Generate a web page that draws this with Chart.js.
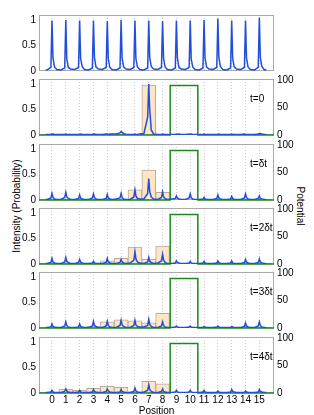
<!DOCTYPE html>
<html>
<head>
<meta charset="utf-8">
<script src="https://cdn.jsdelivr.net/npm/chart.js@4.4.1/dist/chart.umd.min.js"></script>
<style>
  html, body { margin: 0; padding: 0; background: #fff; }
  body { position: relative; width: 314px; height: 415px; overflow: hidden;
         font-family: "Liberation Sans", Arial, sans-serif; }
  canvas { position: absolute; left: 0; }
  .lab { position: absolute; font-size: 10px; color: #000; white-space: nowrap; }
  #ylab { left: 16px; top: 206px; transform: translate(-50%, -50%) rotate(-90deg); }
  #y2lab { left: 300px; top: 206px; transform: translate(-50%, -50%) rotate(90deg); }
</style>
</head>
<body>
<div class="lab" id="ylab">Intensity (Probability)</div>
<div class="lab" id="y2lab">Potential</div>
<script>
// lattice sites (x tick labels)
const POSITIONS = [0, 1, 2, 3, 4, 5, 6, 7, 8, 9, 10, 11, 12, 13, 14, 15];
const TIME_LABELS = ['', 't=0', 't=δt', 't=2δt', 't=3δt', 't=4δt'];
const Y_TICKS = [0, 0.5, 1];
const Y2_TICKS = [0, 50, 100];

// sample positions of the intensity traces
const X = [-0.45,
  -0.35, -0.08, 0, 0.07, 0.18, 0.35,
  0.65, 0.92, 1, 1.07, 1.18, 1.35,
  1.65, 1.92, 2, 2.07, 2.18, 2.35,
  2.65, 2.92, 3, 3.07, 3.18, 3.35,
  3.65, 3.92, 4, 4.07, 4.18, 4.35,
  4.65, 4.92, 5, 5.07, 5.18, 5.35,
  5.65, 5.92, 6, 6.07, 6.18, 6.35,
  6.65, 6.92, 7, 7.07, 7.18, 7.35,
  7.65, 7.92, 8, 8.07, 8.18, 8.35,
  8.65, 8.92, 9, 9.07, 9.18, 9.35,
  9.65, 9.92, 10, 10.07, 10.18, 10.35,
  10.65, 10.92, 11, 11.07, 11.18, 11.35,
  11.65, 11.92, 12, 12.07, 12.18, 12.35,
  12.65, 12.92, 13, 13.07, 13.18, 13.35,
  13.65, 13.92, 14, 14.07, 14.18, 14.35,
  14.65, 14.92, 15, 15.07, 15.18, 15.35,
  15.5];

// intensity, top panel (lattice)
const INT_0 = [0.02,
  0.02, 0.07, 0.99, 0.26, 0.08, 0.03,
  0.02, 0.06, 1.00, 0.24, 0.07, 0.04,
  0.03, 0.07, 0.99, 0.25, 0.09, 0.03,
  0.02, 0.06, 0.99, 0.27, 0.08, 0.04,
  0.03, 0.07, 0.98, 0.25, 0.07, 0.03,
  0.02, 0.06, 1.00, 0.26, 0.08, 0.04,
  0.03, 0.07, 0.99, 0.24, 0.08, 0.03,
  0.02, 0.06, 0.99, 0.26, 0.09, 0.04,
  0.03, 0.07, 0.98, 0.25, 0.08, 0.03,
  0.02, 0.06, 0.99, 0.26, 0.07, 0.04,
  0.03, 0.07, 0.99, 0.24, 0.08, 0.03,
  0.02, 0.06, 1.00, 0.26, 0.08, 0.04,
  0.03, 0.07, 1.03, 0.27, 0.09, 0.03,
  0.02, 0.06, 0.99, 0.25, 0.08, 0.04,
  0.03, 0.07, 0.99, 0.26, 0.08, 0.03,
  0.02, 0.07, 1.05, 0.27, 0.09, 0.03,
  0.02];

// t = 0
const INT_1 = [0.01,
  0.01, 0.01, 0.02, 0.02, 0.01, 0.01,
  0.01, 0.01, 0.02, 0.01, 0.01, 0.01,
  0.01, 0.01, 0.01, 0.02, 0.01, 0.01,
  0.01, 0.01, 0.02, 0.02, 0.01, 0.01,
  0.01, 0.02, 0.02, 0.01, 0.02, 0.02,
  0.02, 0.04, 0.07, 0.05, 0.03, 0.01,
  0.01, 0.01, 0.02, 0.01, 0.01, 0.02,
  0.03, 0.35, 1.00, 0.50, 0.10, 0.02,
  0.01, 0.01, 0.02, 0.01, 0.01, 0.01,
  0.01, 0.01, 0.02, 0.01, 0.02, 0.01,
  0.01, 0.02, 0.01, 0.02, 0.01, 0.01,
  0.01, 0.01, 0.02, 0.01, 0.01, 0.01,
  0.01, 0.01, 0.01, 0.02, 0.01, 0.01,
  0.01, 0.01, 0.02, 0.01, 0.01, 0.01,
  0.01, 0.02, 0.01, 0.01, 0.01, 0.01,
  0.01, 0.02, 0.03, 0.03, 0.02, 0.01,
  0.01];

// t = δt
const INT_2 = [0.01,
  0.01, 0.04, 0.13, 0.05, 0.02, 0.01,
  0.01, 0.05, 0.15, 0.06, 0.03, 0.01,
  0.01, 0.03, 0.10, 0.04, 0.02, 0.01,
  0.01, 0.04, 0.12, 0.05, 0.02, 0.01,
  0.01, 0.03, 0.11, 0.04, 0.02, 0.01,
  0.02, 0.04, 0.13, 0.05, 0.02, 0.01,
  0.01, 0.06, 0.20, 0.08, 0.03, 0.02,
  0.02, 0.13, 0.42, 0.17, 0.06, 0.02,
  0.01, 0.05, 0.16, 0.06, 0.03, 0.01,
  0.02, 0.03, 0.08, 0.04, 0.02, 0.01,
  0.01, 0.04, 0.12, 0.05, 0.02, 0.01,
  0.01, 0.02, 0.05, 0.02, 0.01, 0.01,
  0.01, 0.03, 0.10, 0.04, 0.02, 0.01,
  0.01, 0.02, 0.07, 0.03, 0.01, 0.01,
  0.01, 0.04, 0.12, 0.05, 0.02, 0.01,
  0.01, 0.03, 0.08, 0.03, 0.02, 0.01,
  0.01];

// t = 2δt
const INT_3 = [0.01,
  0.01, 0.03, 0.11, 0.04, 0.02, 0.01,
  0.01, 0.04, 0.13, 0.05, 0.03, 0.01,
  0.01, 0.03, 0.09, 0.04, 0.02, 0.01,
  0.01, 0.02, 0.05, 0.02, 0.01, 0.01,
  0.01, 0.03, 0.11, 0.04, 0.02, 0.01,
  0.01, 0.03, 0.09, 0.04, 0.02, 0.01,
  0.02, 0.07, 0.24, 0.10, 0.04, 0.02,
  0.01, 0.04, 0.13, 0.05, 0.03, 0.01,
  0.02, 0.06, 0.19, 0.08, 0.03, 0.01,
  0.01, 0.02, 0.06, 0.03, 0.02, 0.01,
  0.01, 0.02, 0.05, 0.02, 0.01, 0.01,
  0.01, 0.02, 0.05, 0.02, 0.01, 0.01,
  0.01, 0.02, 0.06, 0.03, 0.01, 0.01,
  0.01, 0.02, 0.06, 0.02, 0.01, 0.01,
  0.01, 0.03, 0.09, 0.04, 0.02, 0.01,
  0.01, 0.03, 0.10, 0.04, 0.02, 0.01,
  0.01];

// t = 3δt
const INT_4 = [0.01,
  0.01, 0.02, 0.08, 0.03, 0.02, 0.01,
  0.01, 0.04, 0.12, 0.05, 0.02, 0.01,
  0.01, 0.02, 0.08, 0.03, 0.02, 0.01,
  0.01, 0.04, 0.13, 0.05, 0.03, 0.01,
  0.01, 0.04, 0.13, 0.05, 0.02, 0.01,
  0.01, 0.05, 0.15, 0.06, 0.03, 0.01,
  0.01, 0.05, 0.15, 0.06, 0.03, 0.02,
  0.02, 0.05, 0.17, 0.07, 0.03, 0.01,
  0.01, 0.04, 0.12, 0.05, 0.02, 0.01,
  0.01, 0.02, 0.04, 0.02, 0.01, 0.01,
  0.01, 0.02, 0.04, 0.02, 0.01, 0.01,
  0.01, 0.01, 0.03, 0.02, 0.01, 0.01,
  0.01, 0.02, 0.04, 0.02, 0.01, 0.01,
  0.01, 0.01, 0.03, 0.02, 0.01, 0.01,
  0.01, 0.03, 0.10, 0.04, 0.02, 0.01,
  0.01, 0.04, 0.12, 0.05, 0.02, 0.01,
  0.01];

// t = 4δt
const INT_5 = [0.01,
  0.01, 0.02, 0.05, 0.02, 0.01, 0.01,
  0.01, 0.03, 0.08, 0.04, 0.02, 0.01,
  0.01, 0.02, 0.05, 0.02, 0.01, 0.01,
  0.01, 0.02, 0.07, 0.03, 0.02, 0.01,
  0.01, 0.03, 0.08, 0.04, 0.02, 0.01,
  0.01, 0.02, 0.07, 0.03, 0.02, 0.01,
  0.01, 0.03, 0.10, 0.04, 0.02, 0.01,
  0.02, 0.05, 0.16, 0.07, 0.03, 0.01,
  0.01, 0.03, 0.08, 0.03, 0.02, 0.01,
  0.01, 0.02, 0.05, 0.02, 0.01, 0.01,
  0.01, 0.02, 0.05, 0.02, 0.01, 0.01,
  0.01, 0.02, 0.05, 0.02, 0.01, 0.01,
  0.01, 0.01, 0.04, 0.02, 0.01, 0.01,
  0.01, 0.02, 0.07, 0.03, 0.02, 0.01,
  0.01, 0.01, 0.04, 0.02, 0.01, 0.01,
  0.01, 0.02, 0.07, 0.03, 0.02, 0.01,
  0.01];

// site probabilities (histogram), one value per position
const BARS_1 = [0, 0, 0, 0, 0, 0, 0, 0.98, 0, 0, 0, 0, 0, 0, 0, 0];
const BARS_2 = [0, 0, 0, 0, 0, 0.01, 0.20, 0.59, 0.15, 0, 0, 0, 0, 0, 0, 0];
const BARS_3 = [0, 0, 0, 0.02, 0.06, 0.11, 0.33, 0.09, 0.35, 0, 0, 0, 0, 0, 0, 0];
const BARS_4 = [0, 0, 0.01, 0.03, 0.12, 0.16, 0.14, 0.10, 0.29, 0, 0, 0, 0, 0, 0, 0];
const BARS_5 = [0.02, 0.07, 0.05, 0.09, 0.13, 0.11, 0.02, 0.23, 0.18, 0, 0, 0.01, 0.01, 0.01, 0.01, 0.02];

// potential barrier (right axis)
const POT_X = [-0.94, 8.55, 8.55, 10.55, 10.55, 16.06];
const POT_Y = [0, 0, 90, 90, 0, 0];

const INTENSITIES = [INT_0, INT_1, INT_2, INT_3, INT_4, INT_5];
const BARS = [null, BARS_1, BARS_2, BARS_3, BARS_4, BARS_5];

const FONT = '"Liberation Sans", Arial, sans-serif';
Chart.defaults.font.family = FONT;
Chart.defaults.font.size = 10;
Chart.defaults.color = '#000';

const TOPS = [15, 79, 144, 208, 272, 337];
const PLOT_H = 56;
const MARGIN = 10;
const BOTTOM = 417;

const framePlugin = {
  id: 'frame',
  beforeDatasetsDraw(chart) {
    const { ctx, chartArea: a } = chart;
    ctx.save();
    ctx.strokeStyle = '#a9a9a9';
    ctx.lineWidth = 1;
    ctx.strokeRect(Math.round(a.left) + 0.5, Math.round(a.top) + 0.5,
      Math.round(a.right - a.left) - 1, Math.round(a.bottom - a.top) - 1);
    ctx.restore();
  },
  afterDatasetsDraw(chart, args, opts) {
    if (!opts.text) return;
    const { ctx, scales } = chart;
    ctx.save();
    ctx.font = '10px ' + FONT;
    ctx.fillStyle = '#000';
    ctx.textAlign = 'left';
    ctx.textBaseline = 'middle';
    ctx.fillText(opts.text, scales.x.getPixelForValue(14.33), scales.y.getPixelForValue(0.7));
    ctx.restore();
  }
};

function makePanel(i) {
  const last = i === TOPS.length - 1;
  const canvas = document.createElement('canvas');
  const top = TOPS[i] - MARGIN;
  const h = last ? BOTTOM - top : PLOT_H + 2 * MARGIN;
  canvas.width = 314;
  canvas.height = h;
  canvas.style.top = top + 'px';
  document.body.appendChild(canvas);

  const datasets = [];
  datasets.push({
    type: 'line',
    data: X.map((x, k) => ({ x, y: INTENSITIES[i][k] })),
    borderColor: '#1f4fdc', borderWidth: 1.5, pointRadius: 0, tension: 0,
    yAxisID: 'y', order: 1
  });
  if (BARS[i]) {
    datasets.push({
      type: 'line',
      data: POT_X.map((x, k) => ({ x, y: POT_Y[k] })),
      borderColor: '#1a8a1a', borderWidth: 1.5, pointRadius: 0, tension: 0,
      yAxisID: 'y2', order: 2, clip: false
    });
    datasets.push({
      type: 'bar',
      data: POSITIONS.map((x, k) => ({ x, y: BARS[i][k] })),
      backgroundColor: '#fde5c6', borderColor: '#b9ab9c', borderWidth: 1,
      borderSkipped: false, barPercentage: 1, categoryPercentage: 1,
      yAxisID: 'y', order: 3
    });
  }

  const scales = {
    x: {
      type: 'linear', min: -0.94, max: 16.06, offset: false,
      afterBuildTicks: s => { s.ticks = POSITIONS.map(v => ({ value: v })); },
      afterFit: s => { s.height = last ? h - MARGIN - PLOT_H : 0; },
      grid: { color: '#cdcdcd', lineWidth: 1, drawTicks: false, offset: false },
      border: { display: false, dash: [1, 2] },
      ticks: { display: last, padding: 1, autoSkip: false, maxRotation: 0,
               callback: v => String(v) },
      title: { display: last, text: 'Position', padding: 0, font: { size: 10 } }
    },
    y: {
      position: 'left', min: 0, max: 1.1,
      afterBuildTicks: s => { s.ticks = Y_TICKS.map(v => ({ value: v })); },
      afterFit: s => { s.width = 39; },
      grid: { display: false, drawTicks: false },
      border: { display: false },
      ticks: { padding: 3, callback: v => String(v) }
    }
  };
  if (BARS[i]) {
    scales.y2 = {
      position: 'right', min: 0, max: 102,
      afterBuildTicks: s => { s.ticks = Y2_TICKS.map(v => ({ value: v })); },
      afterFit: s => { s.width = 40; },
      grid: { display: false, drawTicks: false },
      border: { display: false },
      ticks: { padding: 3, callback: v => String(v) }
    };
  }

  new Chart(canvas.getContext('2d'), {
    type: 'line',
    data: { datasets },
    options: {
      responsive: false, animation: false, devicePixelRatio: 1,
      layout: { padding: { top: MARGIN, bottom: last ? 0 : MARGIN, left: 0, right: BARS[i] ? 0 : 40 } },
      plugins: { legend: { display: false }, tooltip: { enabled: false },
                 frame: { text: TIME_LABELS[i] } },
      scales
    },
    plugins: [framePlugin]
  });
}

for (let i = 0; i < TOPS.length; i++) makePanel(i);
</script>
</body>
</html>
